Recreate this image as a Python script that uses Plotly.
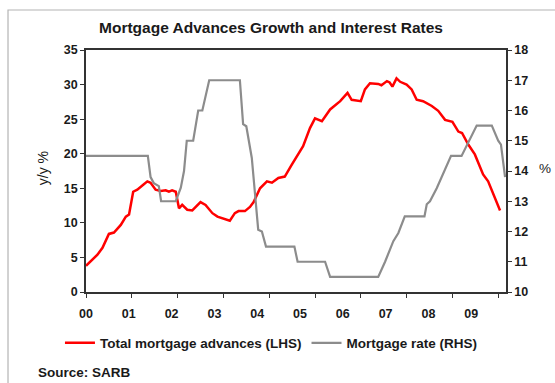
import plotly.graph_objects as go

# Years since Jan 2000 and y/y growth in total mortgage advances (%)
adv_t = [0.00, 0.12, 0.25, 0.36, 0.50, 0.61, 0.76, 0.87, 0.94, 1.03, 1.12, 1.25,
         1.34, 1.41, 1.52, 1.63, 1.74, 1.81, 1.88, 1.96, 2.03, 2.10, 2.21, 2.32,
         2.42, 2.50, 2.61, 2.76, 2.87, 3.01, 3.14, 3.25, 3.33, 3.47, 3.58, 3.66,
         3.73, 3.80, 3.95, 4.06, 4.20, 4.34, 4.49, 4.62, 4.74, 4.89, 5.00, 5.15,
         5.33, 5.55, 5.71, 5.80, 6.00, 6.09, 6.20, 6.38, 6.45, 6.57, 6.63, 6.69,
         6.78, 6.86, 7.00, 7.11, 7.22, 7.36, 7.55, 7.69, 7.84, 8.00, 8.13, 8.21,
         8.35, 8.49, 8.67, 8.78, 8.93, 9.04]
adv_growth = [3.8, 4.6, 5.4, 6.4, 8.4, 8.6, 9.7, 10.9, 11.2, 14.5, 14.8, 15.5,
              16.0, 15.8, 14.8, 14.6, 14.7, 14.5, 14.7, 14.5, 12.1, 12.6, 11.9, 11.8,
              12.4, 13.0, 12.6, 11.4, 10.9, 10.6, 10.3, 11.4, 11.7, 11.7, 12.3, 13.0,
              13.9, 15.0, 16.0, 15.8, 16.5, 16.7, 18.4, 19.8, 21.1, 23.7, 25.1, 24.7,
              26.4, 27.6, 28.8, 27.8, 27.6, 29.3, 30.2, 30.1, 29.9, 30.5, 30.3, 29.7,
              30.9, 30.4, 30.0, 29.3, 27.8, 27.6, 26.9, 26.2, 24.9, 24.6, 23.2, 23.0,
              21.3, 19.9, 17.0, 16.0, 13.6, 11.8]

# Mortgage rate (%) path
rate_t = [0.00, 1.35, 1.41, 1.48, 1.59, 1.64, 1.96, 2.07, 2.14, 2.20, 2.34, 2.45,
          2.54, 2.69, 3.36, 3.43, 3.50, 3.62, 3.76, 3.84, 3.93, 4.55, 4.62, 5.22,
          5.33, 6.38, 6.53, 6.71, 6.82, 6.96, 7.39, 7.44, 7.51, 7.66, 7.97, 8.20,
          8.53, 8.86, 9.00, 9.06, 9.15]
rate = [14.5, 14.5, 13.8, 13.6, 13.5, 13.0, 13.0, 13.45, 14.0, 15.0, 15.0, 16.0,
        16.0, 17.0, 17.0, 15.55, 15.48, 14.43, 12.06, 12.0, 11.5, 11.5, 11.0, 11.0,
        10.5, 10.5, 11.0, 11.68, 11.95, 12.5, 12.5, 12.9, 13.0, 13.44, 14.5, 14.5,
        15.5, 15.5, 15.0, 14.87, 13.8]

year_ticks = list(range(10))
year_labels = ["00", "01", "02", "03", "04", "05", "06", "07", "08", "09"]
left_ticks = [0, 5, 10, 15, 20, 25, 30, 35]
right_ticks = [10, 11, 12, 13, 14, 15, 16, 17, 18]

FONT = "Liberation Sans, Arial, sans-serif"
AXIS_COL = "#333333"
LABEL_RANGE = [0, 420 / 42.8]

fig = go.Figure()
fig.add_trace(go.Scatter(
    x=adv_t, y=adv_growth, mode="lines", name="Total mortgage advances (LHS)",
    line=dict(color="#ff0000", width=2.5), xaxis="x", yaxis="y"))
fig.add_trace(go.Scatter(
    x=rate_t, y=rate, mode="lines", name="Mortgage rate (RHS)",
    line=dict(color="#8c8c8c", width=2.2), xaxis="x", yaxis="y2"))
# Empty carrier trace so the year-label axis gets drawn
fig.add_trace(go.Scatter(
    x=LABEL_RANGE, y=[None, None], mode="lines", showlegend=False,
    hoverinfo="skip", xaxis="x2", yaxis="y"))

tickfont = dict(family=FONT, size=12.5, color="#1a1a1a", weight="bold")

fig.update_layout(
    width=555, height=383,
    margin=dict(l=86, r=49, t=50, b=91),
    paper_bgcolor="white", plot_bgcolor="white",
    showlegend=True,
    legend=dict(orientation="h", x=-0.062, xanchor="left", y=-0.211, yanchor="middle",
                font=dict(family=FONT, size=13.5, color="#1a1a1a", weight="bold"),
                itemwidth=30, bgcolor="rgba(0,0,0,0)", tracegroupgap=0),
    xaxis=dict(range=[0, 9.17], tickvals=year_ticks, showticklabels=False,
               ticks="outside", ticklen=4, tickcolor=AXIS_COL, showgrid=False,
               zeroline=False, showline=True, linecolor=AXIS_COL, linewidth=1.5,
               mirror=True),
    xaxis2=dict(range=LABEL_RANGE, overlaying="x", anchor="y", side="bottom",
                tickvals=year_ticks, ticktext=year_labels, ticks="", showline=False,
                showgrid=False, zeroline=False, tickfont=tickfont,
                ticklabelstandoff=12),
    yaxis=dict(range=[0, 35], tickvals=left_ticks, ticks="outside", ticklen=4,
               tickcolor=AXIS_COL, showgrid=False, zeroline=False, showline=True,
               linecolor=AXIS_COL, linewidth=1.5, tickfont=tickfont),
    yaxis2=dict(range=[10, 18], tickvals=right_ticks, overlaying="y", side="right",
                ticks="outside", ticklen=4, tickcolor=AXIS_COL, showgrid=False,
                zeroline=False, showline=True, linecolor=AXIS_COL, linewidth=1.5,
                tickfont=tickfont),
)

# Outer frame around the whole chart
fig.add_shape(type="rect", xref="paper", yref="paper",
              x0=-0.1857, x1=1.13, y0=-0.41, y1=1.1653,
              line=dict(color="#b4b4b4", width=1.2), layer="below")

fig.add_annotation(text="Mortgage Advances Growth and Interest Rates",
                   xref="paper", yref="paper", x=0.4405, y=1.095,
                   xanchor="center", yanchor="middle", showarrow=False,
                   font=dict(family=FONT, size=15.5, color="#1a1a1a", weight="bold"))
fig.add_annotation(text="y/y %", xref="paper", yref="paper", x=-0.102, y=0.512,
                   xanchor="center", yanchor="middle", textangle=-90, showarrow=False,
                   font=dict(family=FONT, size=14, color="#1a1a1a"))
fig.add_annotation(text="%", xref="paper", yref="paper", x=1.093, y=0.512,
                   xanchor="center", yanchor="middle", showarrow=False,
                   font=dict(family=FONT, size=13.5, color="#1a1a1a"))
fig.add_annotation(text="Source: SARB", xref="paper", yref="paper", x=-0.119, y=-0.331,
                   xanchor="left", yanchor="middle", showarrow=False,
                   font=dict(family=FONT, size=13.5, color="#1a1a1a", weight="bold"))

fig.write_html("out.html")
